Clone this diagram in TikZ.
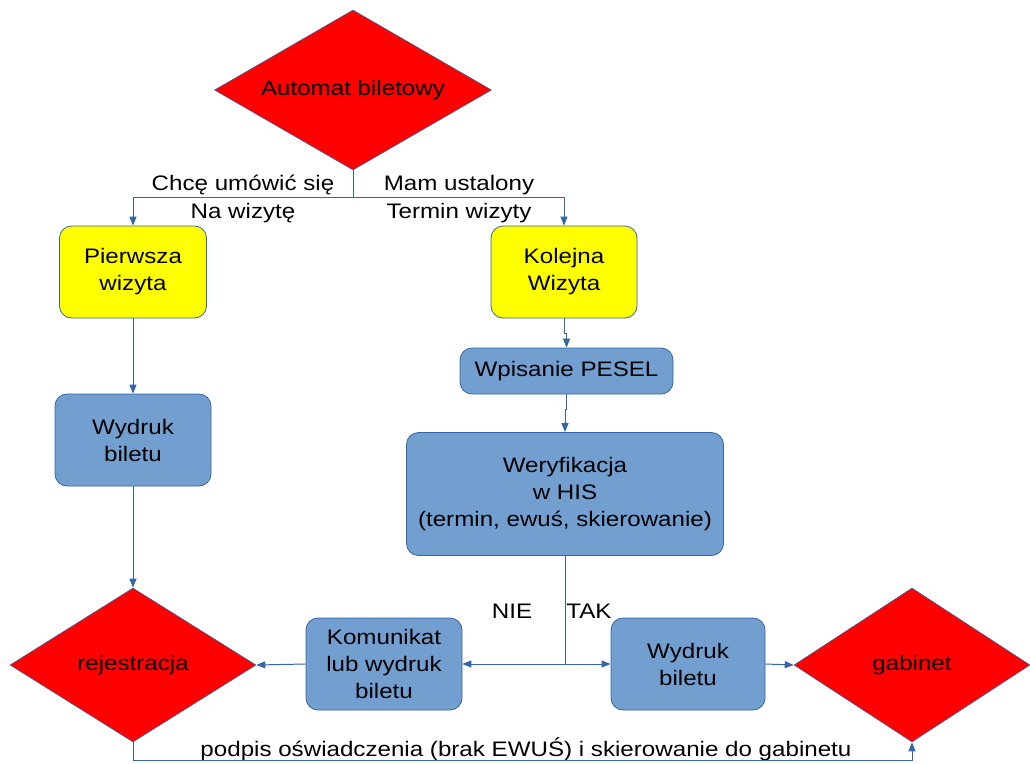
\documentclass[tikz,border=0pt]{standalone}
\usepackage{fontspec}
\setmainfont{Liberation Sans}[FakeStretch=1.15]
\usetikzlibrary{shapes.geometric,arrows.meta}
\definecolor{lored}{HTML}{FF0000}
\definecolor{loyellow}{HTML}{FFFF00}
\definecolor{loblue}{HTML}{729FCF}
\definecolor{loline}{HTML}{3465A4}
\tikzset{
  dia/.style={diamond, fill=lored, draw=loline, line width=0.6pt, aspect=1.7, inner sep=0pt, align=center},
  ybox/.style={rectangle, rounded corners=12pt, fill=loyellow, draw=loline, line width=0.8pt, inner sep=0pt, align=center},
  bbox/.style={rectangle, rounded corners=12pt, fill=loblue, draw=loline, line width=0.8pt, inner sep=0pt, align=center},
  conn/.style={draw=loline, line width=1pt},
  arr/.style={conn, -{Triangle[length=9pt,width=7pt]}},
  lbl/.style={inner sep=0pt, align=center}
}
\begin{document}
\begin{tikzpicture}[x=1pt,y=-1pt, font=\fontsize{21}{27}\selectfont]
\useasboundingbox (0,0) rectangle (1030,763);
% nodes
\node[dia, minimum width=277pt, minimum height=160pt] (auto) at (353,90) {\raisebox{-2pt}{Automat biletowy}};
\node[ybox, minimum width=147pt, minimum height=92pt] (pw) at (133,272) {Pierwsza\\wizyta};
\node[ybox, minimum width=146pt, minimum height=92pt] (kw) at (564,272) {Kolejna\\Wizyta};
\node[bbox, minimum width=156pt, minimum height=92pt] (wl) at (133,440) {Wydruk\\biletu};
\node[bbox, minimum width=213pt, minimum height=46pt] (pesel) at (566.5,371) {Wpisanie PESEL};
\node[bbox, minimum width=317pt, minimum height=123pt] (wer) at (565,494) {Weryfikacja\\w HIS\\(termin, ewuś, skierowanie)};
\node[dia, minimum width=246pt, minimum height=154pt] (rej) at (133,665) {\raisebox{-2pt}{rejestracja}};
\node[bbox, minimum width=156pt, minimum height=92pt] (kom) at (384,664) {Komunikat\\lub wydruk\\biletu};
\node[bbox, minimum width=154pt, minimum height=92pt] (wr) at (688,664) {Wydruk\\biletu};
\node[dia, minimum width=236pt, minimum height=154pt] (gab) at (912,665) {gabinet};
% labels
\node[lbl] (l1) at (243,185) {Chcę umówić się};
\node[lbl] (l2) at (243,213) {Na wizytę};
\node[lbl] (l3) at (459,185) {Mam ustalony};
\node[lbl] (l4) at (459,213) {Termin wizyty};
\node[lbl] (nie) at (512,611) {NIE};
\node[lbl] (tak) at (589,611) {TAK};
\node[lbl] (bot) at (526,749) {podpis oświadczenia (brak EWUŚ) i skierowanie do gabinetu};
% connectors
\coordinate (split) at (auto.south |- 0,197);
\draw[conn] (auto.south) -- (split);
\draw[arr] (split) -| (pw.north);
\draw[arr] (split) -| (kw.north);
\draw[arr] (pw.south) -- (wl.north);
\draw[arr] (wl.south) -- (rej.north);
\draw[arr] (kw.south) -- ++(0,15) -| (pesel.north);
\draw[arr] (pesel.south) -- ++(0,15) -| (wer.north);
\coordinate (tj) at (wer.south |- kom.east);
\draw[conn] (wer.south) -- (tj);
\draw[arr] (tj) -- (kom.east);
\draw[arr] (tj) -- (wr.west);
\draw[arr] (kom.west) -- (rej.east);
\draw[arr] (wr.east) -- (gab.west);
\draw[arr] (rej.south) -- ++(0,18) -| (gab.south);
\end{tikzpicture}
\end{document}
